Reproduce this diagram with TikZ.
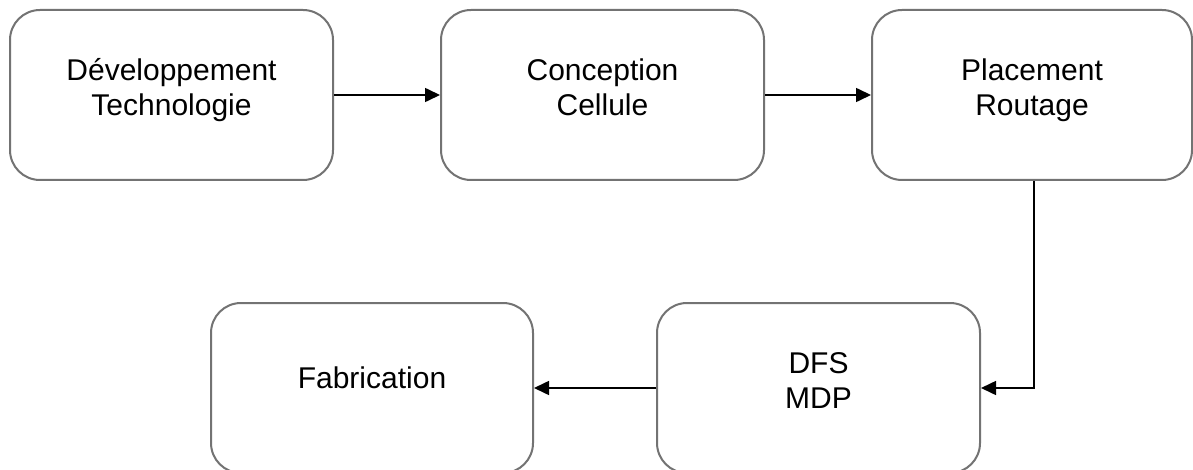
\documentclass[tikz,border=0pt]{standalone}
\usepackage{fontspec}
\setmainfont{Liberation Sans}
\usetikzlibrary{arrows.meta}
\tikzset{
  stepbox/.style={draw=black!55, line width=2pt, rounded corners=30pt, fill=white, inner sep=0pt},
  lbl/.style={anchor=base, align=center, inner sep=0pt, font=\fontsize{30}{35}\selectfont},
  conn/.style={draw=black, line width=1.6pt, -{Triangle[length=15pt,width=14pt]}}
}
\begin{document}
\begin{tikzpicture}[x=1pt,y=-1pt]
\useasboundingbox[fill=white] (0,0) rectangle (1193,470);
\node[stepbox, minimum width=323pt, minimum height=170pt] (b1) at (171.5,95) {};
\node[stepbox, minimum width=323pt, minimum height=170pt] (b2) at (602.5,95) {};
\node[stepbox, minimum width=320pt, minimum height=170pt] (b3) at (1032,95) {};
\node[stepbox, minimum width=322pt, minimum height=170pt] (b4) at (372,388) {};
\node[stepbox, minimum width=323pt, minimum height=170pt] (b5) at (818.5,388) {};
\node[lbl] (t1) at (171.5,115.5) {Développement\\Technologie};
\node[lbl] (t2) at (602.5,115.5) {Conception\\Cellule};
\node[lbl] (t3) at (1032,115.5) {Placement\\Routage};
\node[lbl] (t4) at (372,388) {Fabrication};
\node[lbl] (t5) at (818.5,408) {DFS\\MDP};
\draw[conn] (b1.east) -- (b2.west);
\draw[conn] (b2.east) -- (b3.west);
\draw[conn] (b3.south -| 1034,0) |- (b5.east);
\draw[conn] (b5.west) -- (b4.east);
\end{tikzpicture}
\end{document}
